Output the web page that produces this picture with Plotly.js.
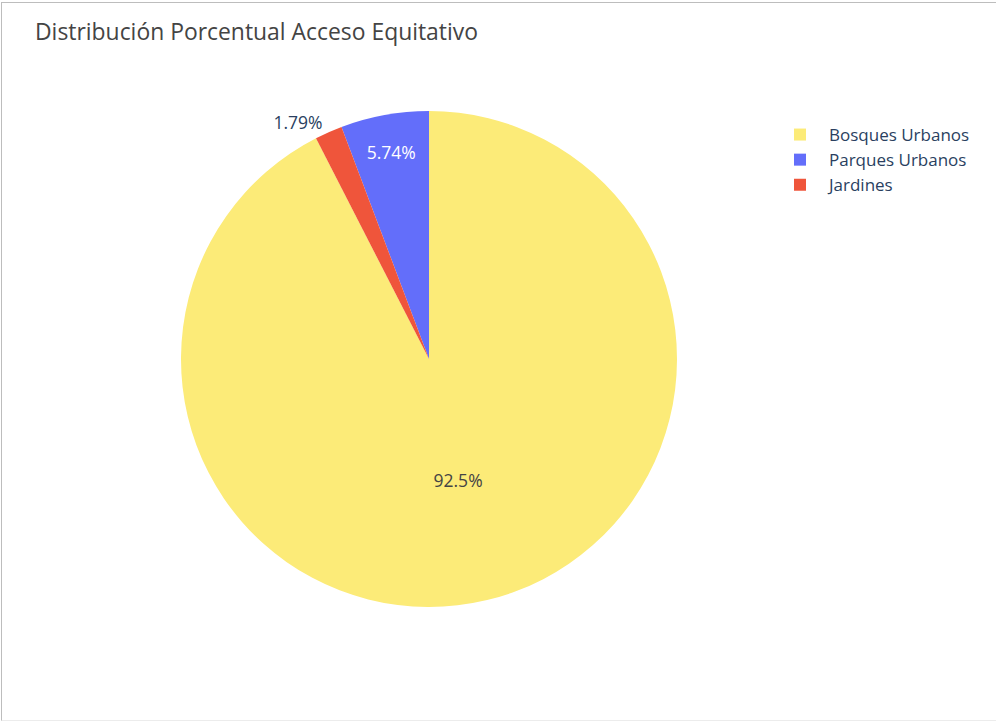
<!DOCTYPE html>
<html>
<head>
<meta charset="utf-8">
<script src="https://cdn.plot.ly/plotly-3.0.1.min.js"></script>
<style>
html,body{margin:0;padding:0;background:#fff;}
#chart{position:absolute;left:0;top:0;width:996px;height:721px;}
#frame{position:absolute;left:1px;top:2px;width:1200px;height:717px;border-top:1px solid #bdbdbd;border-left:1px solid #bdbdbd;border-bottom:1px solid #ececec;pointer-events:none;}
</style>
</head>
<body>
<div id="chart"></div>
<div id="frame"></div>
<script>
var labels = ["Bosques Urbanos", "Parques Urbanos", "Jardines"];
var values = [92.47, 5.74, 1.79];
var colors = ["#FCEB78", "#636EFA", "#EF553B"];
var chartTitle = "Distribución Porcentual Acceso Equitativo";

var W = 996, H = 721;
var data = [{
  type: "pie",
  labels: labels,
  values: values,
  marker: {colors: colors},
  textinfo: "percent",
  textposition: "auto",
  textfont: {size: 17.5},
  sort: true,
  hoverinfo: "label+percent"
}];

var layout = {
  width: W, height: H,
  paper_bgcolor: "#fff",
  font: {family: "'Open Sans', sans-serif", color: "#2a3f5f", size: 17.5},
  margin: {l: 181, r: 319, t: 111, b: 114, autoexpand: false},
  title: {
    text: chartTitle,
    xref: "container", yref: "container",
    x: 35 / W, xanchor: "left",
    y: 1 - 32 / H, yanchor: "middle",
    font: {size: 22.9, color: "#444"}
  },
  showlegend: true,
  legend: {
    xref: "container", yref: "container",
    x: 771 / W, xanchor: "left",
    y: 1 - 117 / H, yanchor: "top",
    itemwidth: 48,
    font: {size: 17, color: "#2a3f5f"},
    bgcolor: "rgba(0,0,0,0)"
  }
};

Plotly.newPlot("chart", data, layout, {displayModeBar: false, staticPlot: true});
</script>
</body>
</html>
